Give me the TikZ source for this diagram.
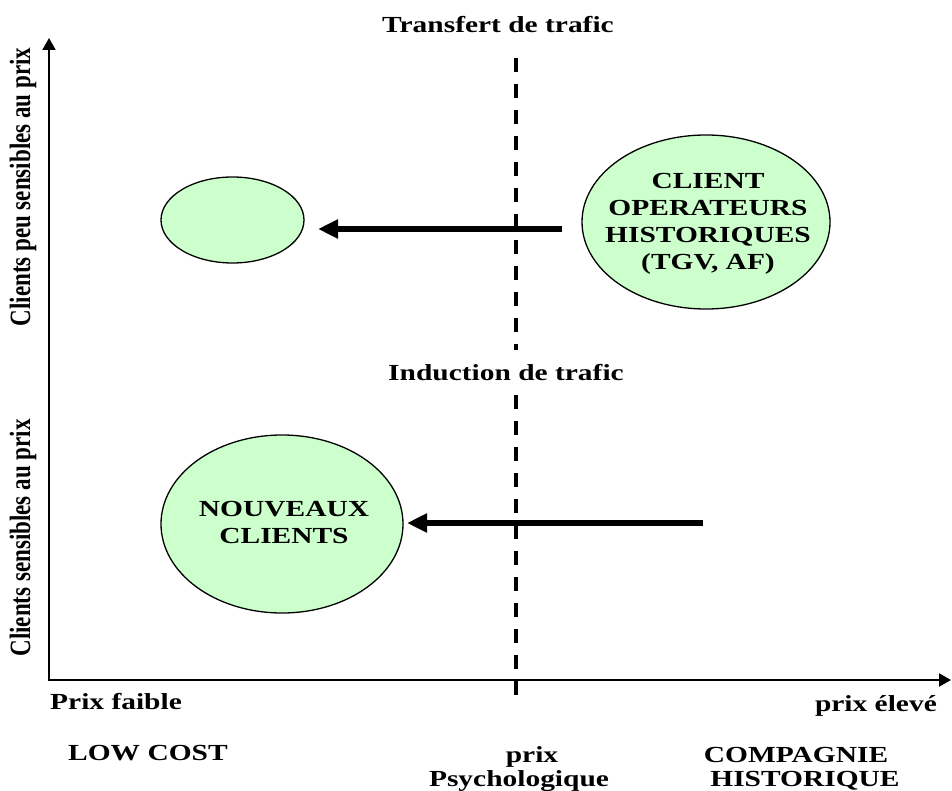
\documentclass[tikz,border=0pt]{standalone}
\usepackage{fontspec}
\setmainfont{Liberation Serif}
\usetikzlibrary{arrows.meta,shapes.geometric}
\definecolor{lgreen}{HTML}{CCFFCC}
\newcommand{\hs}[1]{\scalebox{1.28}[1]{#1}}
\newcommand{\vs}[1]{\scalebox{1}[1.28]{#1}}
\begin{document}
\begin{tikzpicture}[x=1pt,y=-1pt,
  lbl/.style={inner sep=0pt, font=\fontsize{23}{27}\selectfont\bfseries},
  bub/.style={ellipse, draw=black, line width=1.3pt, fill=lgreen, inner sep=0pt},
  axisline/.style={line width=2pt, {Triangle[length=12pt,width=13pt]}-{Triangle[length=12pt,width=13pt]}},
  flow/.style={line width=6.5pt, -{Triangle[length=20pt,width=18pt]}},
  psy/.style={line width=3.5pt, dash pattern=on 14pt off 12pt}]
\useasboundingbox (0,0) rectangle (952,791);
% axes
\coordinate (O) at (49,680);
\coordinate (ytop) at (49,38);
\coordinate (xend) at (951,680);
\draw[axisline] (ytop) -- (O) -- (xend);
% psychological price line
\coordinate (d1) at (516,58);
\coordinate (d2) at (516,350);
\coordinate (d3) at (516,395);
\coordinate (d4) at (516,700);
\draw[psy] (d1) -- (d2);
\draw[psy] (d3) -- (d4);
% bubbles
\node[bub, minimum width=143pt, minimum height=86pt] (lowc) at (232.5,220) {};
\node[bub, minimum width=248pt, minimum height=174pt] (hist) at (706,222) {};
\node[lbl, align=center] (histtxt) at (708,224) {\hs{\begin{tabular}{@{}c@{}}CLIENT\\OPERATEURS\\HISTORIQUES\\(TGV, AF)\end{tabular}}};
\node[bub, minimum width=242pt, minimum height=178pt] (nouv) at (282,524) {};
\node[lbl, align=center] (nouvtxt) at (284,525) {\hs{\begin{tabular}{@{}c@{}}NOUVEAUX\\CLIENTS\end{tabular}}};
% flows
\coordinate (a1s) at (562,229);
\coordinate (a1e) at (318,229);
\draw[flow] (a1s) -- (a1e);
\coordinate (a2s) at (703,523);
\coordinate (a2e) at (407,523);
\draw[flow] (a2s) -- (a2e);
% labels
\node[lbl, anchor=base] (transf) at (498,33) {\hs{Transfert de trafic}};
\node[lbl, anchor=base] (induc) at (506,380) {\hs{Induction de trafic}};
\node[lbl, rotate=90] (ypeu) at (23,187) {\vs{Clients peu sensibles au prix}};
\node[lbl, rotate=90] (ysens) at (23,538) {\vs{Clients sensibles au prix}};
\node[lbl, anchor=base west] (pfaible) at (50,709) {\hs{Prix faible}};
\node[lbl, anchor=base east] (pelev) at (937,711) {\hs{prix élevé}};
\node[lbl, anchor=base west] (lowcost) at (68,760) {\hs{LOW COST}};
\node[lbl, anchor=base] (prix) at (532,762) {\hs{prix}};
\node[lbl, anchor=base] (psych) at (519,786) {\hs{Psychologique}};
\node[lbl, anchor=base] (comp) at (796,762) {\hs{COMPAGNIE}};
\node[lbl, anchor=base] (histo) at (805,786) {\hs{HISTORIQUE}};
\end{tikzpicture}
\end{document}
